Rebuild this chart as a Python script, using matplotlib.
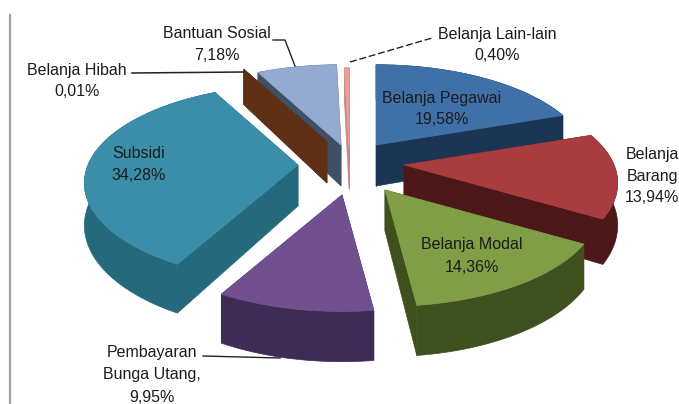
import numpy as np
import matplotlib
matplotlib.use('Agg')
from matplotlib import pyplot as plt

names = ['Belanja Pegawai', 'Belanja Barang', 'Belanja Modal', 'Pembayaran\nBunga Utang,',
         'Subsidi', 'Belanja Hibah', 'Bantuan Sosial', 'Belanja Lain-lain']
values = [19.58, 13.94, 14.36, 9.95, 34.28, 0.01, 7.18, 0.40]

# style and layout, pixels of the 679x404 picture
tops = ['#3f70a8', '#a83c3e', '#7f9e45', '#72508f', '#3b8ea9', '#5f2f16', '#94aad0', '#e8a09a']
walls = ['#1b3654', '#4b1718', '#3e501d', '#3f2c55', '#256a7c', '#5f2f16', '#3f4f68', '#c98a86']
apex_x = [376, 404, 385, 342, 298, 327, 341, 349]
apex_y = [145, 165, 190, 195, 165, 142, 145, 148]
label_x = [442, 652, 472, 152, 139, 77, 217, 497]
label_y = [98, 154, 245, 353, 153, 70, 34, 34]
draw_order = [7, 6, 5, 0, 1, 4, 3, 2]

R = 210.
kR = 95.
p = 0.184
depth = 41.


def project(theta):
    X = np.sin(theta)
    Y = -np.cos(theta)
    f = 1. / (1. - p * Y)
    return R * X * f, kR * Y * f, f


fig = plt.figure(figsize=(6.79, 4.04), dpi=100)
ax = fig.add_axes([0, 0, 1, 1])
ax.set_xlim(0, 679)
ax.set_ylim(404, 0)
ax.axis('off')
plt.rcParams['font.family'] = ['Liberation Sans', 'DejaVu Sans']

ax.plot([10, 10], [15, 404], color='#a0a0a0', lw=1.6)

total = sum(values)
edges = np.cumsum([0] + values) / total * 2 * np.pi

for i in draw_order:
    t = np.linspace(edges[i], edges[i + 1], 60)
    dx, dy, f = project(t)
    ax_x = apex_x[i] + dx
    ax_y = apex_y[i] + dy
    d = depth * f
    # radial walls, then outer wall, then the top
    ax.fill([apex_x[i], ax_x[0], ax_x[0], apex_x[i]],
            [apex_y[i], ax_y[0], ax_y[0] + d[0], apex_y[i] + depth],
            color=walls[i], lw=0.5)
    ax.fill([apex_x[i], ax_x[-1], ax_x[-1], apex_x[i]],
            [apex_y[i], ax_y[-1], ax_y[-1] + d[-1], apex_y[i] + depth],
            color=walls[i], lw=0.5)
    ax.fill(np.r_[ax_x, ax_x[::-1]], np.r_[ax_y, (ax_y + d)[::-1]], color=walls[i], lw=0.5)
    ax.fill(np.r_[apex_x[i], ax_x], np.r_[apex_y[i], ax_y], color=tops[i], lw=0.5)

# leader lines
ax.plot([132, 244], [73, 72], color='#222222', lw=1.1)
ax.plot([273, 285, 295], [40, 40, 66], color='#222222', lw=1.0)
ax.plot([350, 432], [62, 38], color='#222222', lw=1.0, ls=(0, (5, 2)))
ax.plot([203, 280], [356, 358], color='#222222', lw=1.0)

for i in range(len(names)):
    pct = f'{values[i]:.2f}%'.replace('.', ',')
    if names[i] == 'Belanja Barang':
        lines = ['Belanja', 'Barang', pct]
    else:
        lines = names[i].split('\n') + [pct]
    for j, line in enumerate(lines):
        ax.text(label_x[i], label_y[i] + 22 * j, line, ha='center', va='center',
                fontsize=11.5, color='#1c1c1c', clip_on=True)

fig.savefig('out.png', dpi=100)
